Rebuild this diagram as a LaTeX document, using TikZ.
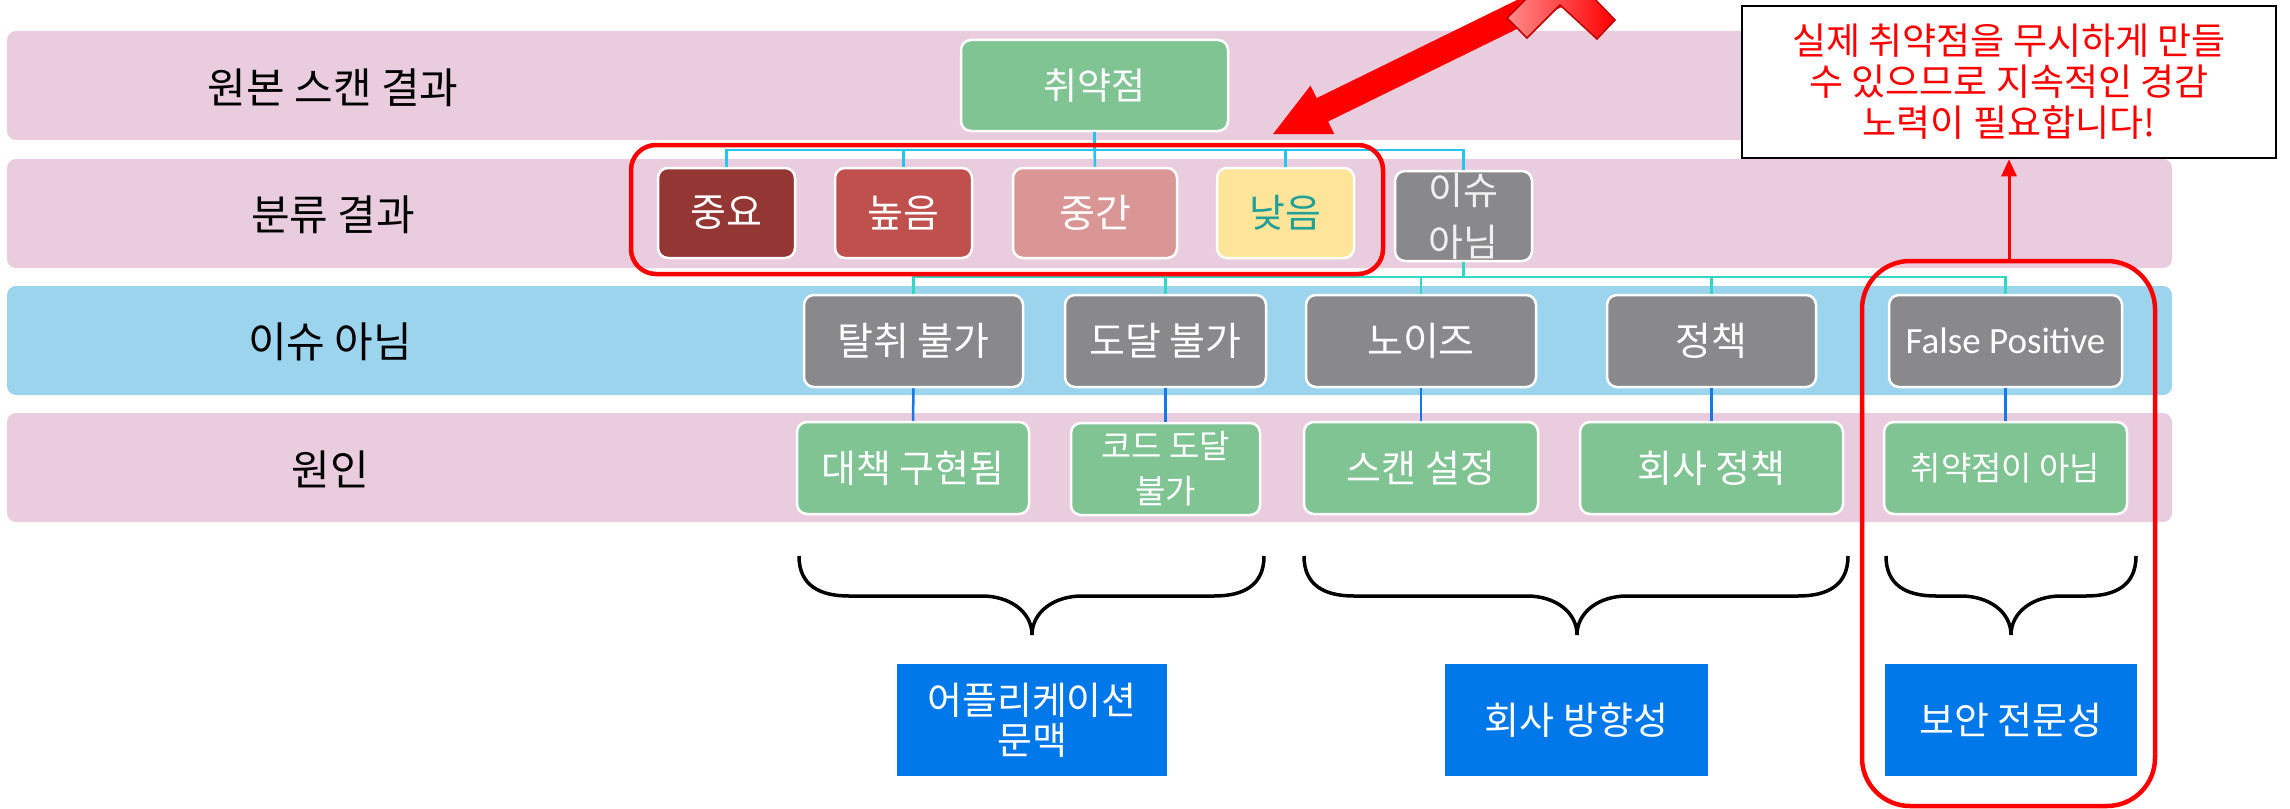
\documentclass[tikz,border=0pt]{standalone}
\usepackage{fontspec}
\setmainfont{Noto Sans CJK KR}
\newfontfamily\latfont{Carlito}
\usetikzlibrary{arrows.meta}
\definecolor{pinkband}{RGB}{234,204,223}
\definecolor{blueband}{RGB}{156,212,238}
\definecolor{cgreen}{RGB}{128,196,148}
\definecolor{cgray}{RGB}{137,137,139}
\definecolor{crit}{RGB}{148,54,52}
\definecolor{high}{RGB}{192,80,77}
\definecolor{mid}{RGB}{217,150,148}
\definecolor{low}{RGB}{255,229,153}
\definecolor{lowtext}{RGB}{32,160,150}
\definecolor{bottomblue}{RGB}{0,120,234}
\definecolor{lineA}{RGB}{38,196,240}
\definecolor{lineB}{RGB}{52,214,196}
\definecolor{lineC}{RGB}{20,120,232}
\definecolor{darkred}{RGB}{192,0,0}
\definecolor{lightred}{RGB}{255,140,140}
\begin{document}
\begin{tikzpicture}[x=1pt,y=-1pt,
  band/.style={rounded corners=9pt},
  lbl/.style={font=\fontsize{42}{50}\selectfont, text=black},
  box/.style={draw=white, line width=2.5pt, rounded corners=10pt, inner sep=0pt,
    text=white, align=center, font=\fontsize{39}{46}\selectfont},
  r2/.style={box, minimum width=137pt, minimum height=90pt},
  r3/.style={box, fill=cgray, minimum height=92pt},
  r4/.style={box, fill=cgreen, minimum height=92pt, font=\fontsize{38}{45}\selectfont},
  bot/.style={fill=bottomblue, inner sep=0pt, text=white, align=center,
    minimum height=112pt, font=\fontsize{38}{40}\selectfont},
  cA/.style={draw=lineA, line width=2.5pt},
  cB/.style={draw=lineB, line width=2.5pt},
  cC/.style={draw=lineC, line width=2.5pt},
  bracestyle/.style={draw=black, line width=3.5pt},
  redframe/.style={draw=red, line width=4.5pt},
]
\useasboundingbox (0,0) rectangle (2290,808);
\clip (0,0) rectangle (2290,808);

% bands
\fill[pinkband, band] (7,31) rectangle (2172,140);
\fill[pinkband, band] (7,159) rectangle (2172,268);
\fill[blueband, band] (7,286) rectangle (2172,395);
\fill[pinkband, band] (7,413) rectangle (2172,522);

% band labels
\node[lbl] (L1) at (333,88) {원본 스캔 결과};
\node[lbl] (L2) at (333,215) {분류 결과};
\node[lbl] (L3) at (330,342) {이슈 아님};
\node[lbl] (L4) at (330,469) {원인};

% row 1
\node[box, fill=cgreen, minimum width=267pt, minimum height=91pt,
  font=\fontsize{37}{44}\selectfont] (v) at (1094.5,85.5) {취약점};

% row 2
\node[r2, fill=crit] (s1) at (726.5,213) {중요};
\node[r2, fill=high] (s2) at (903.5,213) {높음};
\node[r2, fill=mid, minimum width=164pt] (s3) at (1095,213) {중간};
\node[r2, fill=low, text=lowtext] (s4) at (1285.5,213) {낮음};
\node[r2, fill=cgray, text={rgb,255:red,240;green,240;blue,240},
  font=\fontsize{38}{52}\selectfont] (s5) at (1463.5,216) {이슈\\아님};

% row 3
\node[r3, minimum width=219pt] (r1) at (913.5,341) {탈취 불가};
\node[r3, minimum width=201pt] (r2n) at (1165.5,341) {도달 불가};
\node[r3, minimum width=230pt] (r3n) at (1421,341) {노이즈};
\node[r3, minimum width=209pt] (r4n) at (1711.5,341) {정책};
\node[r3, minimum width=233pt, font=\latfont\fontsize{37}{44}\selectfont] (r5) at (2005.5,341) {False Positive};

% row 4
\node[r4, minimum width=232pt] (q1) at (913,468) {대책 구현됨};
\node[r4, minimum width=189pt, font=\fontsize{33}{45}\selectfont] (q2) at (1165.5,469) {코드 도달\\불가};
\node[r4, minimum width=234pt] (q3) at (1421,468) {스캔 설정};
\node[r4, minimum width=263pt] (q4) at (1711.5,468) {회사 정책};
\node[r4, minimum width=243pt, font=\fontsize{33}{40}\selectfont] (q5) at (2005.5,468) {취약점이 아님};

% connectors: top tree
\coordinate (t1) at (1094.5,150);
\draw[cA] (v.south) -- (t1);
\draw[cA] (s1.north) |- (t1);
\draw[cA] (s2.north) |- (t1);
\draw[cA] (s3.north) -- (t1);
\draw[cA] (s4.north) |- (t1);
\draw[cA] (s5.north) |- (t1);

% connectors: row 3 tree
\coordinate (t2) at (1463.5,277);
\draw[cB] (s5.south) -- (t2);
\draw[cB] (r1.north) |- (t2);
\draw[cB] (r2n.north) |- (t2);
\draw[cB] (r3n.north) |- (t2);
\draw[cB] (r4n.north) |- (t2);
\draw[cB] (r5.north) |- (t2);

% connectors: row 3 to row 4
\draw[cC] (r1.south) -- (q1.north);
\draw[cC] (r2n.south) -- (q2.north);
\draw[cC] (r3n.south) -- (q3.north);
\draw[cC] (r4n.south) -- (q4.north);
\draw[cC] (r5.south) -- (q5.north);

% braces
\draw[bracestyle] (799,556) .. controls (799,585) and (819,596) .. (849,596) -- (982,596)
  .. controls (1010,596) and (1032,612) .. (1032,635)
  .. controls (1032,612) and (1054,596) .. (1082,596) -- (1214,596)
  .. controls (1244,596) and (1264,585) .. (1264,556);
\draw[bracestyle] (1304,556) .. controls (1304,585) and (1324,596) .. (1354,596) -- (1527,596)
  .. controls (1555,596) and (1577,612) .. (1577,635)
  .. controls (1577,612) and (1599,596) .. (1627,596) -- (1798,596)
  .. controls (1828,596) and (1848,585) .. (1848,556);
\draw[bracestyle] (1886,556) .. controls (1886,585) and (1906,596) .. (1936,596) -- (1961,596)
  .. controls (1989,596) and (2011,612) .. (2011,635)
  .. controls (2011,612) and (2033,596) .. (2061,596) -- (2086,596)
  .. controls (2116,596) and (2136,585) .. (2136,556);

% bottom boxes
\node[bot, minimum width=270pt] (b1) at (1032,720) {어플리케이션\\문맥};
\node[bot, minimum width=263pt] (b2) at (1576.5,720) {회사 방향성};
\node[bot, minimum width=252pt] (b3) at (2011,720) {보안 전문성};

% red frames
\draw[redframe, rounded corners=25pt] (631,145) rectangle (1383,274);
\draw[redframe, rounded corners=48pt] (1862,261) rectangle (2155,806);

% callout
\node[draw=black, line width=2.5pt, fill=white, minimum width=534pt, minimum height=152pt,
  inner sep=0pt, text=red, align=center, font=\fontsize{37}{41}\selectfont] (co) at (2009,82)
  {실제 취약점을 무시하게 만들\\수 있으므로 지속적인 경감\\노력이 필요합니다!};
\coordinate (fpTop) at (2009,259);
\draw[red, line width=3pt, -{Triangle[length=17pt,width=15pt]}] (fpTop) -- (co.south);

% big red double arrow
\fill[red] (1273,134) -- (1334.3,134.0) -- (1328.1,121.5) -- (1593,-8.3) -- (1581.6,-31.7)
  -- (1316.7,98.1) -- (1310.5,85.6) -- cycle;
\shadedraw[draw=darkred, line width=1.5pt, left color=lightred, right color=red]
  (1507,18) -- (1561,-36) -- (1615,20) -- (1597,39) -- (1560,5) -- (1527,38) -- cycle;
\end{tikzpicture}
\end{document}
